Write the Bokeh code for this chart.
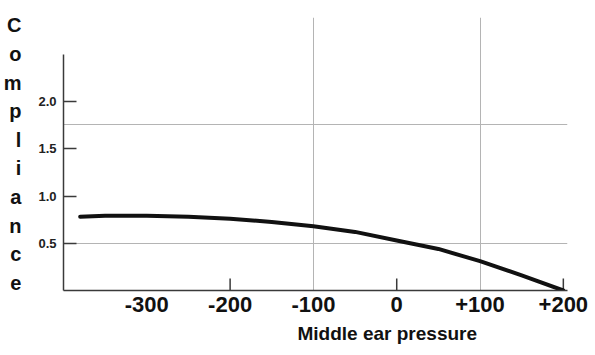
from bokeh.plotting import figure
from bokeh.models import Title, FixedTicker, Range1d
from bokeh.embed import file_html
from bokeh.resources import INLINE

# ---- data ----
pressure = [-380, -350, -300, -250, -200, -150, -100, -50, 0, 50, 100, 150, 200]
compliance = [0.78, 0.79, 0.79, 0.78, 0.76, 0.725, 0.68, 0.62, 0.53, 0.44, 0.31, 0.16, 0.0]

x_tick_values = [-300, -200, -100, 0, 100, 200]
x_tick_labels = ["-300", "-200", "-100", "0", "+100", "+200"]
x_tick_marks = [-200, 0, 200]
y_tick_values = [0.5, 1.0, 1.5, 2.0]
y_tick_labels = ["0.5", "1.0", "1.5", "2.0"]
grid_x = [-100, 100]
grid_y = [0.5, 1.76]

x_title = "Middle ear pressure"
y_title = "Compliance"

FONT = "Liberation Sans"

p = figure(width=595, height=355, output_backend="svg", toolbar_location=None,
           x_range=Range1d(-400, 205), y_range=Range1d(0, 2.889),
           min_border_left=62, min_border_right=28, min_border_top=17,
           min_border_bottom=65)
p.outline_line_color = None
p.background_fill_color = "white"
p.border_fill_color = "white"

# grids
p.xgrid.ticker = FixedTicker(ticks=grid_x)
p.ygrid.ticker = FixedTicker(ticks=grid_y)
for g in (p.xgrid, p.ygrid):
    g.grid_line_color = "#b4b4b4"
    g.grid_line_width = 1

# x axis
xa = p.xaxis[0]
xa.ticker = FixedTicker(ticks=x_tick_values)
xa.major_label_overrides = {v: l for v, l in zip(x_tick_values, x_tick_labels)}
xa.major_tick_in = 0
xa.major_tick_out = 0
xa.minor_tick_in = 0
xa.minor_tick_out = 0
xa.axis_line_color = "#3a3a3a"
xa.axis_line_width = 1.5
xa.major_label_standoff = 6
xa.major_label_text_font = FONT
xa.major_label_text_font_style = "bold"
xa.major_label_text_font_size = "22px"
xa.major_label_text_color = "#111111"

# y axis
ya = p.yaxis[0]
ya.ticker = FixedTicker(ticks=y_tick_values)
ya.major_label_overrides = {v: l for v, l in zip(y_tick_values, y_tick_labels)}
ya.bounds = (0, 2.5)
ya.major_tick_in = 13
ya.major_tick_out = 0
ya.minor_tick_in = 0
ya.minor_tick_out = 0
ya.major_tick_line_color = "#3a3a3a"
ya.major_tick_line_width = 1.5
ya.axis_line_color = "#3a3a3a"
ya.axis_line_width = 1.5
ya.major_label_standoff = 7
ya.major_label_text_font = FONT
ya.major_label_text_font_style = "bold"
ya.major_label_text_font_size = "13px"
ya.major_label_text_color = "#222222"
ya.axis_label = "\n".join(y_title)
ya.axis_label_orientation = "horizontal"
ya.axis_label_standoff = 14
ya.axis_label_text_font = FONT
ya.axis_label_text_font_style = "bold"
ya.axis_label_text_font_size = "20px"
ya.axis_label_text_line_height = 1.3
ya.axis_label_text_color = "#111111"

# x tick marks (only some positions carry a visible mark)
tick_len = 12 / 94.5
p.segment(x0=x_tick_marks, y0=[0] * len(x_tick_marks), x1=x_tick_marks,
          y1=[tick_len] * len(x_tick_marks), line_color="#3a3a3a", line_width=1.5)

# the curve
p.line(pressure, compliance, line_color="#111111", line_width=4,
       line_join="round", line_cap="round")

# x title
p.add_layout(Title(text=x_title, align="left", offset=234, standoff=12,
                   text_font=FONT, text_font_style="bold",
                   text_font_size="19px", text_color="#111111"), "below")

open("out.html", "w").write(file_html(p, INLINE))
